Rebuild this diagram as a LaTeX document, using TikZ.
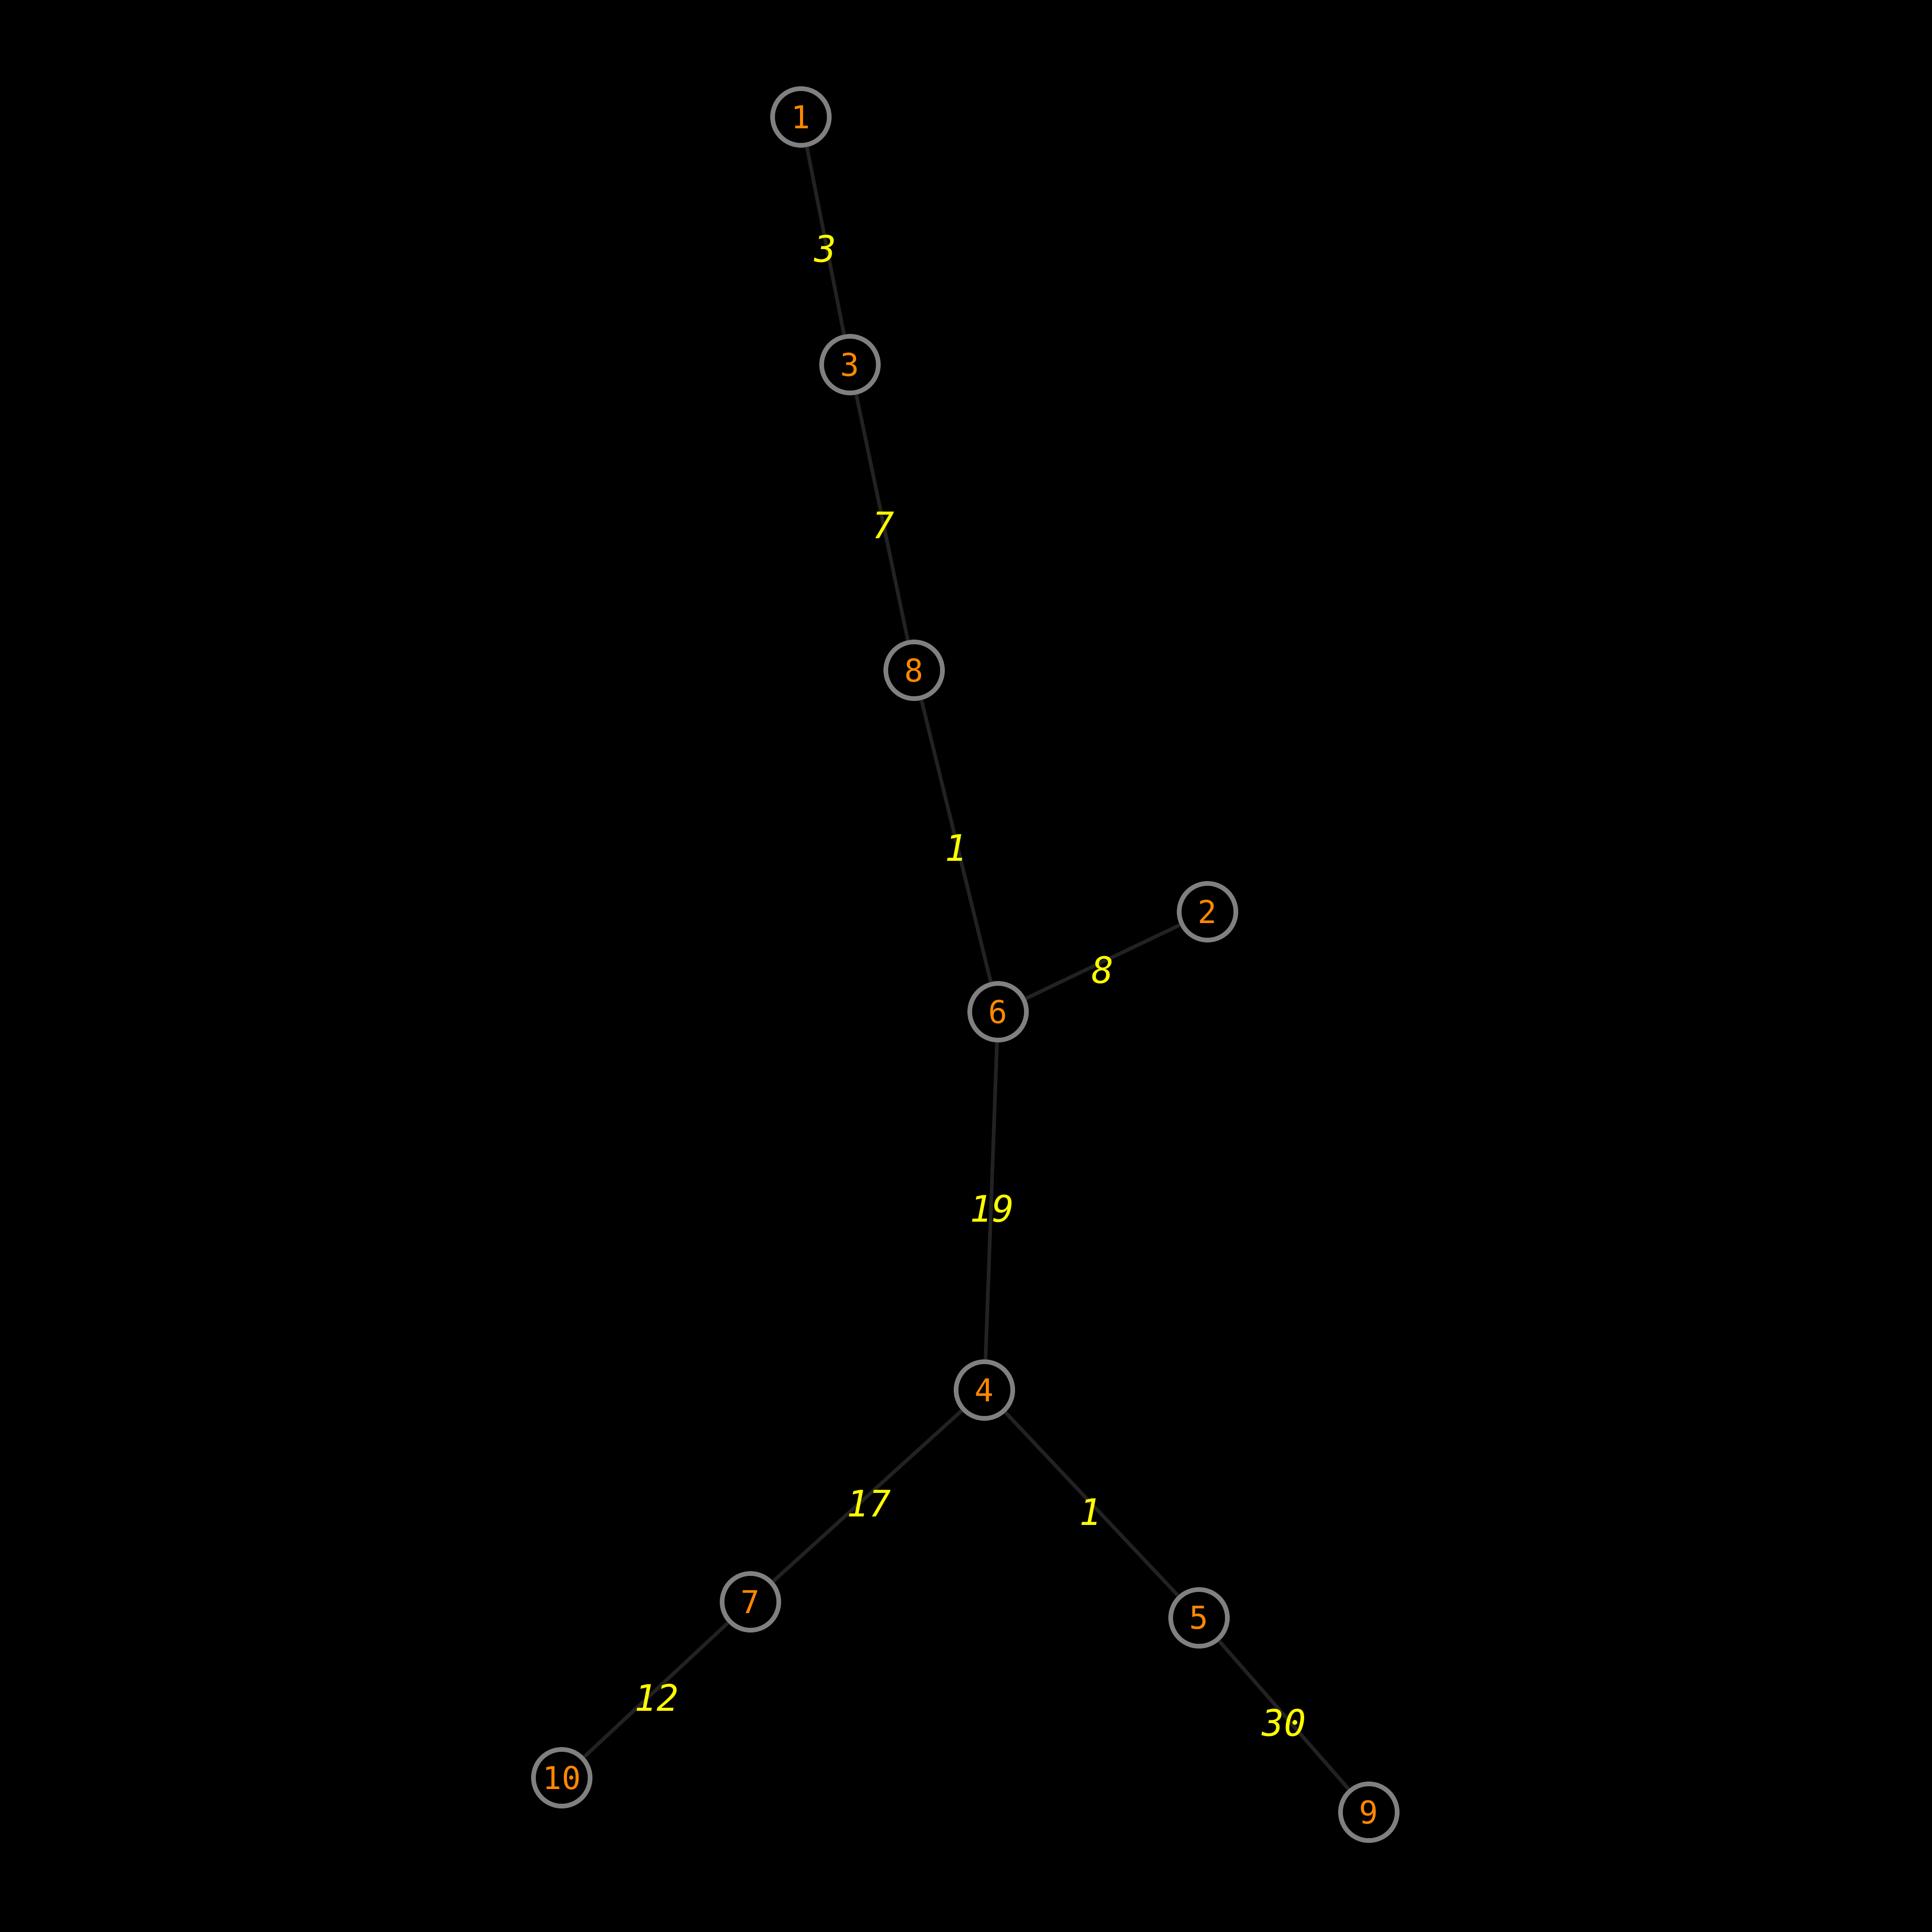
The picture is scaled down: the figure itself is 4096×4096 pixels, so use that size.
\documentclass[tikz,border=0pt]{standalone}
\usepackage{fontspec}
\setmonofont{DejaVu Sans Mono}
\newfontfamily\lblfont{DejaVu Sans Mono}
\begin{document}
\begin{tikzpicture}[x=0.01cm,y=-0.01cm,
  vtx/.style={circle,draw=vgray,line width=2.8pt,fill=black,minimum size=1.2cm,inner sep=0pt,text=vorange,font=\lblfont\fontsize{19}{19}\selectfont},
  edg/.style={draw=egray,line width=2.2pt},
  wlbl/.style={text=vyellow,font=\lblfont\itshape\fontsize{22}{22}\selectfont,inner sep=0pt}]
\definecolor{vgray}{HTML}{808080}
\definecolor{vorange}{HTML}{FF8800}
\definecolor{egray}{HTML}{222222}
\definecolor{vyellow}{HTML}{FFFF00}
\fill[black] (0,0) rectangle (4096,4096);
\useasboundingbox (0,0) rectangle (4096,4096);
\node[vtx] (n1) at (1698,248) {1};
\node[vtx] (n3) at (1802,773) {3};
\node[vtx] (n8) at (1938,1421) {8};
\node[vtx] (n6) at (2116,2145) {6};
\node[vtx] (n2) at (2560,1933) {2};
\node[vtx] (n4) at (2087,2947) {4};
\node[vtx] (n7) at (1591,3396) {7};
\node[vtx] (n5) at (2542,3430) {5};
\node[vtx] (n10) at (1191,3769) {10};
\node[vtx] (n9) at (2902,3842) {9};
\begin{scope}[on background layer/.try]
\end{scope}
\draw[edg] (n1) -- (n3);
\draw[edg] (n3) -- (n8);
\draw[edg] (n8) -- (n6);
\draw[edg] (n6) -- (n2);
\draw[edg] (n6) -- (n4);
\draw[edg] (n4) -- (n7);
\draw[edg] (n4) -- (n5);
\draw[edg] (n7) -- (n10);
\draw[edg] (n5) -- (n9);
\node[wlbl] (w13) at (1750,527) {3};
\node[wlbl] (w38) at (1873,1113) {7};
\node[wlbl] (w86) at (2027,1797) {1};
\node[wlbl] (w62) at (2338,2056) {8};
\node[wlbl] (w64) at (2103,2562) {19};
\node[wlbl] (w47) at (1842,3187) {17};
\node[wlbl] (w45) at (2312,3205) {1};
\node[wlbl] (w710) at (1392,3599) {12};
\node[wlbl] (w59) at (2722,3652) {30};
\end{tikzpicture}
\end{document}
